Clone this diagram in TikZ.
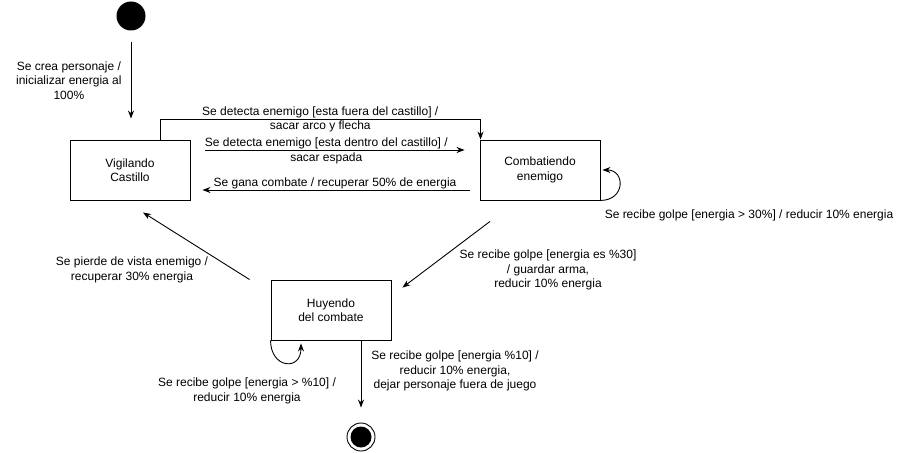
\documentclass[tikz,border=0pt]{standalone}
\usepackage{fontspec}
\setmainfont{Liberation Sans}
\usetikzlibrary{arrows.meta,positioning}

\begin{document}
\begin{tikzpicture}[x=1pt, y=-1pt, font=\fontsize{12}{14.5}\selectfont, line width=0.9pt,
  >={Stealth[length=8pt,width=6pt]},
  state/.style={draw, minimum width=120pt, minimum height=60pt, align=center},
  lbl/.style={align=center, inner sep=1pt}]
  \useasboundingbox (0,0) rectangle (901,452);
  \node[circle, fill, minimum size=29pt, inner sep=0pt] (inicio) at (131,16) {};
  \node[state] (vigilando) at (130,170) {Vigilando\\Castillo};
  \node[state] (combatiendo) at (540,170) {Combatiendo\\enemigo};
  \node[state] (huyendo) at (331,310) {Huyendo\\del combate};
  \node[circle, draw, minimum size=28pt, inner sep=0pt] (fin) at (361,437) {};
  \node[circle, fill, minimum size=21pt, inner sep=0pt] (fin-centro) at (fin) {};

  \path[->]
  (inicio) edge[shorten <=11pt, shorten >=21pt] node[lbl, left=8pt, yshift=5pt] {Se crea personaje /\\inicializar energia al\\100\%} (inicio |- vigilando.north)
  ([yshift=20pt]vigilando.east) edge[shorten <=15pt, shorten >=15pt] node[lbl, pos=0.47, yshift=-1pt] {Se detecta enemigo [esta dentro del castillo] /\\sacar espada} ([yshift=20pt]combatiendo.west)
  ([yshift=-20pt]combatiendo.west) edge[shorten <=10pt, shorten >=12pt] node[lbl, above] {Se gana combate / recuperar 50\% de energia} ([yshift=-20pt]vigilando.east)
  ([xshift=-50pt,yshift=-21pt]combatiendo.south) edge ([xshift=11pt,yshift=-8pt]huyendo.north east)
  ([xshift=-21pt]huyendo.north west) edge ([xshift=13pt,yshift=-12pt]vigilando.south)
  ([xshift=30pt]huyendo.south) edge[shorten >=15pt] (fin)
  ;
  \draw[->] ([xshift=30pt]vigilando.north) -- ++(0,-20) -| node[lbl, pos=0.25] {Se detecta enemigo [esta fuera del castillo] /\\sacar arco y flecha} ([xshift=1pt]combatiendo.north west);
  \draw[->] (combatiendo.south east) .. controls +(25,0) and +(23,0) .. ([xshift=2pt]combatiendo.east);
  \draw[->] (huyendo.south west) .. controls +(0,28) and +(0,28) .. ([xshift=-30pt,yshift=-3pt]huyendo.south);

  \node[lbl] (txt-golpe30) at (749,215) {Se recibe golpe [energia > 30\%] / reducir 10\% energia};
  \node[lbl] (txt-huida) at (548,270) {Se recibe golpe [energia es \%30]\\/ guardar arma,\\reducir 10\% energia};
  \node[lbl] (txt-perdida) at (132,270) {Se pierde de vista enemigo /\\recuperar 30\% energia};
  \node[lbl] (txt-golpe10) at (247,391) {Se recibe golpe [energia > \%10] /\\reducir 10\% energia};
  \node[lbl] (txt-fin) at (455,371) {Se recibe golpe [energia \%10] /\\reducir 10\% energia,\\dejar personaje fuera de juego};
\end{tikzpicture}
\end{document}
